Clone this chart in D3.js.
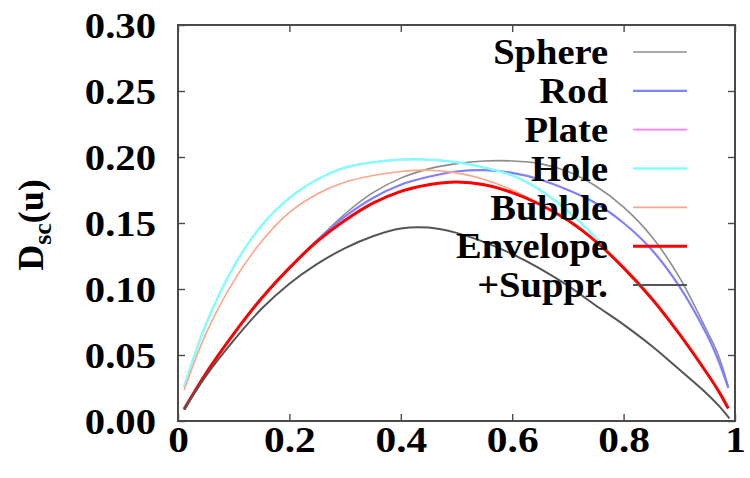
<!DOCTYPE html>
<html>
<head>
<meta charset="utf-8">
<script src="https://cdn.jsdelivr.net/npm/d3@7"></script>
<style>
  html, body { margin: 0; padding: 0; background: #fff; }
  svg { display: block; }
  text { font-family: "Liberation Serif", "Times New Roman", serif; font-weight: bold; fill: #000; }
</style>
</head>
<body>
<svg id="chart" width="750" height="478"></svg>
<script>
// Sample positions u along the horizontal axis
const uGrid = [0.011, 0.05, 0.1, 0.15, 0.2, 0.25, 0.3, 0.35, 0.4, 0.45, 0.5,
               0.55, 0.6, 0.65, 0.7, 0.75, 0.8, 0.85, 0.9, 0.95, 0.97, 0.988];

// D_sc(u) for each source shape
const sphere   = [0.0086, 0.036, 0.066, 0.093, 0.116, 0.137, 0.157, 0.173, 0.184, 0.191, 0.195,
                  0.197, 0.197, 0.195, 0.189, 0.178, 0.162, 0.140, 0.109, 0.068, 0.050, 0.026];
const rod      = [0.0086, 0.036, 0.066, 0.093, 0.116, 0.137, 0.155, 0.169, 0.179, 0.185, 0.189,
                  0.190, 0.188, 0.183, 0.175, 0.165, 0.150, 0.130, 0.102, 0.065, 0.046, 0.025];
const plate    = [0.026, 0.073, 0.117, 0.148, 0.169, 0.183, 0.192, 0.196, 0.198, 0.198, 0.196,
                  0.192, 0.186, 0.175, 0.159, 0.139, 0.116, 0.093, 0.066, 0.036, 0.023, 0.0105];
const hole     = [0.026, 0.073, 0.117, 0.148, 0.169, 0.183, 0.192, 0.196, 0.198, 0.198, 0.196,
                  0.192, 0.186, 0.175, 0.159, 0.139, 0.116, 0.093, 0.066, 0.036, 0.023, 0.0105];
const bubble   = [0.0235, 0.066, 0.106, 0.136, 0.158, 0.172, 0.181, 0.186, 0.189, 0.190, 0.188,
                  0.183, 0.175, 0.164, 0.152, 0.136, 0.116, 0.093, 0.066, 0.036, 0.023, 0.0100];
const envelope = [0.0090, 0.036, 0.066, 0.093, 0.116, 0.136, 0.152, 0.165, 0.174, 0.179, 0.181,
                  0.179, 0.173, 0.164, 0.152, 0.136, 0.116, 0.093, 0.066, 0.036, 0.023, 0.0095];
const uSuppr   = [0.011, 0.05, 0.1, 0.15, 0.2, 0.25, 0.3, 0.35, 0.4, 0.45, 0.5,
                  0.55, 0.6, 0.65, 0.7, 0.75, 0.8, 0.85, 0.9, 0.95, 0.97, 0.99];
const suppr    = [0.0086, 0.034, 0.061, 0.085, 0.104, 0.119, 0.131, 0.140, 0.1458, 0.1465, 0.1425,
                  0.1355, 0.1265, 0.1155, 0.1025, 0.0875, 0.073, 0.057, 0.039, 0.0205, 0.012, 0.002];

// Tick labels
const xTicks = [0, 0.2, 0.4, 0.6, 0.8, 1];
const xTickLabels = ["0", "0.2", "0.4", "0.6", "0.8", "1"];
const yTicks = [0, 0.05, 0.10, 0.15, 0.20, 0.25, 0.30];
const yTickLabels = ["0.00", "0.05", "0.10", "0.15", "0.20", "0.25", "0.30"];

const seriesNames = ["Sphere", "Rod", "Plate", "Hole", "Bubble", "Envelope", "+Suppr."];
const seriesColors = ["#8c8c8c", "#8080ff", "#ff80ff", "#80ffff", "#ffa588", "#ff0000", "#555555"];
const seriesWidths = [1.6, 2.2, 1.6, 2.4, 1.6, 3.0, 2.0];

const series = [
  { u: uGrid, v: sphere },
  { u: uGrid, v: rod },
  { u: uGrid, v: plate },
  { u: uGrid, v: hole },
  { u: uGrid, v: bubble },
  { u: uGrid, v: envelope },
  { u: uSuppr, v: suppr }
].map((s, i) => ({
  name: seriesNames[i], color: seriesColors[i], width: seriesWidths[i],
  points: s.u.map((u, j) => [u, s.v[j]])
}));

const svg = d3.select("#chart");
const m = { left: 178, right: 735, top: 25, bottom: 421 };

const x = d3.scaleLinear().domain([0, 1]).range([m.left, m.right]);
const y = d3.scaleLinear().domain([0, 0.30]).range([m.bottom, m.top]);

const frameColor = "#4a4a4a";
const tickLen = 7;
const fontSize = 36;

// Widen bold serif glyphs horizontally by factor k
function widen(sel, k) {
  sel.each(function () {
    const w = this.getComputedTextLength();
    d3.select(this).attr("textLength", w * k).attr("lengthAdjust", "spacingAndGlyphs");
  });
}

function styleAxis(g) {
  g.select(".domain").remove();
  g.selectAll(".tick line").attr("stroke", frameColor).attr("stroke-width", 1.4);
}

// Axes with inward ticks on all four sides
const axes = svg.append("g");

axes.append("g")
  .attr("transform", `translate(0,${m.bottom})`)
  .call(d3.axisBottom(x).tickValues(xTicks).tickSize(-tickLen)
        .tickFormat((d, i) => xTickLabels[i]))
  .call(styleAxis)
  .call(g => g.selectAll(".tick text")
    .attr("font-size", fontSize).attr("font-family", "Liberation Serif")
    .attr("font-weight", "bold").attr("fill", "#000")
    .attr("dy", null).attr("y", 31)
    .call(widen, 1.15));

axes.append("g")
  .attr("transform", `translate(0,${m.top})`)
  .call(d3.axisTop(x).tickValues(xTicks).tickSize(-tickLen).tickFormat(""))
  .call(styleAxis);

axes.append("g")
  .attr("transform", `translate(${m.left},0)`)
  .call(d3.axisLeft(y).tickValues(yTicks).tickSize(-tickLen).tickPadding(22)
        .tickFormat((d, i) => yTickLabels[i]))
  .call(styleAxis)
  .call(g => g.selectAll(".tick text")
    .attr("font-size", fontSize).attr("font-family", "Liberation Serif")
    .attr("font-weight", "bold").attr("fill", "#000")
    .attr("dy", "0.34em")
    .call(widen, 1.13));

axes.append("g")
  .attr("transform", `translate(${m.right},0)`)
  .call(d3.axisRight(y).tickValues(yTicks).tickSize(-tickLen).tickFormat(""))
  .call(styleAxis);

// Curves
const line = d3.line()
  .x(d => x(d[0]))
  .y(d => y(d[1]))
  .curve(d3.curveCatmullRom.alpha(0.5));

svg.append("g")
  .selectAll("path")
  .data(series)
  .join("path")
  .attr("d", d => line(d.points))
  .attr("fill", "none")
  .attr("stroke", d => d.color)
  .attr("stroke-width", d => d.width)
  .attr("stroke-linejoin", "round");

// Plot frame
svg.append("rect")
  .attr("x", m.left).attr("y", m.top)
  .attr("width", m.right - m.left).attr("height", m.bottom - m.top)
  .attr("fill", "none").attr("stroke", frameColor).attr("stroke-width", 2);

// Legend
const legend = svg.append("g");
const rowY = d3.scaleLinear().domain([0, series.length - 1]).range([52, 285]);
series.forEach((s, i) => {
  const cy = rowY(i);
  legend.append("text")
    .attr("x", 608).attr("y", cy)
    .attr("dy", "0.34em")
    .attr("text-anchor", "end")
    .attr("font-size", fontSize)
    .text(s.name)
    .call(widen, 1.07);
  legend.append("line")
    .attr("x1", 633).attr("x2", 687)
    .attr("y1", cy).attr("y2", cy)
    .attr("stroke", s.color).attr("stroke-width", s.width);
});

// Y axis title: D_sc(u)
const ylab = svg.append("text")
  .attr("transform", `translate(43,${(m.top + m.bottom) / 2 + 2}) rotate(-90)`)
  .attr("text-anchor", "middle")
  .attr("font-size", fontSize);
ylab.append("tspan").text("D");
ylab.append("tspan").attr("font-size", 26).attr("dy", 8).text("sc");
ylab.append("tspan").attr("dy", -8).text("(u)");
</script>
</body>
</html>
